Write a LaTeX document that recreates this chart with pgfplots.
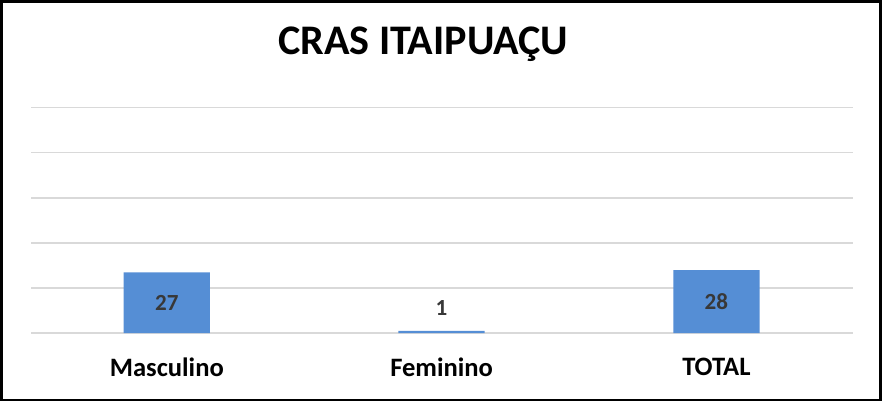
\documentclass[border=0pt]{standalone}
\usepackage{pgfplots}
\pgfplotsset{compat=1.18}
\usepackage{fontspec}
\setmainfont{Carlito}
\definecolor{barblue}{HTML}{558ED5}
\definecolor{gridgray}{HTML}{D9D9D9}
\definecolor{lbl}{HTML}{383838}
\begin{document}
\begin{tikzpicture}
\begin{axis}[
  scale only axis, width=819pt, height=225pt,
  xmin=-0.493, xmax=2.496, ymin=0, ymax=100,
  ytick={0,20,40,60,80,100}, yticklabels={},
  major tick length=0pt,
  ymajorgrids, grid style={gridgray, line width=1.5pt},
  axis line style={draw=none},
  xtick={0,1,2}, xticklabels={Masculino,Feminino,TOTAL},
  xticklabel style={font=\fontsize{26.5}{31}\selectfont\bfseries, yshift=-21pt},
  ybar, bar width=86pt,
  clip=false,
]
\addplot[fill=barblue, draw=none] coordinates {(0,27) (1,1) (2,28)};
\node[font=\fontsize{23}{27}\selectfont\bfseries, text=lbl] at (axis cs:0,13.5) {27};
\node[font=\fontsize{23}{27}\selectfont\bfseries, text=lbl] at (axis cs:1,11) {1};
\node[font=\fontsize{23}{27}\selectfont\bfseries, text=lbl] at (axis cs:2,14) {28};
\node[font=\fontsize{42}{50}\selectfont\bfseries] at (rel axis cs:0.477,1) [yshift=63pt] {CRAS ITAIPUAÇU};
\end{axis}
\draw[line width=2.5pt] ([xshift=-30pt,yshift=-66.5pt]current axis.south west) rectangle ([xshift=28pt,yshift=106pt]current axis.north east);
\end{tikzpicture}
\end{document}
